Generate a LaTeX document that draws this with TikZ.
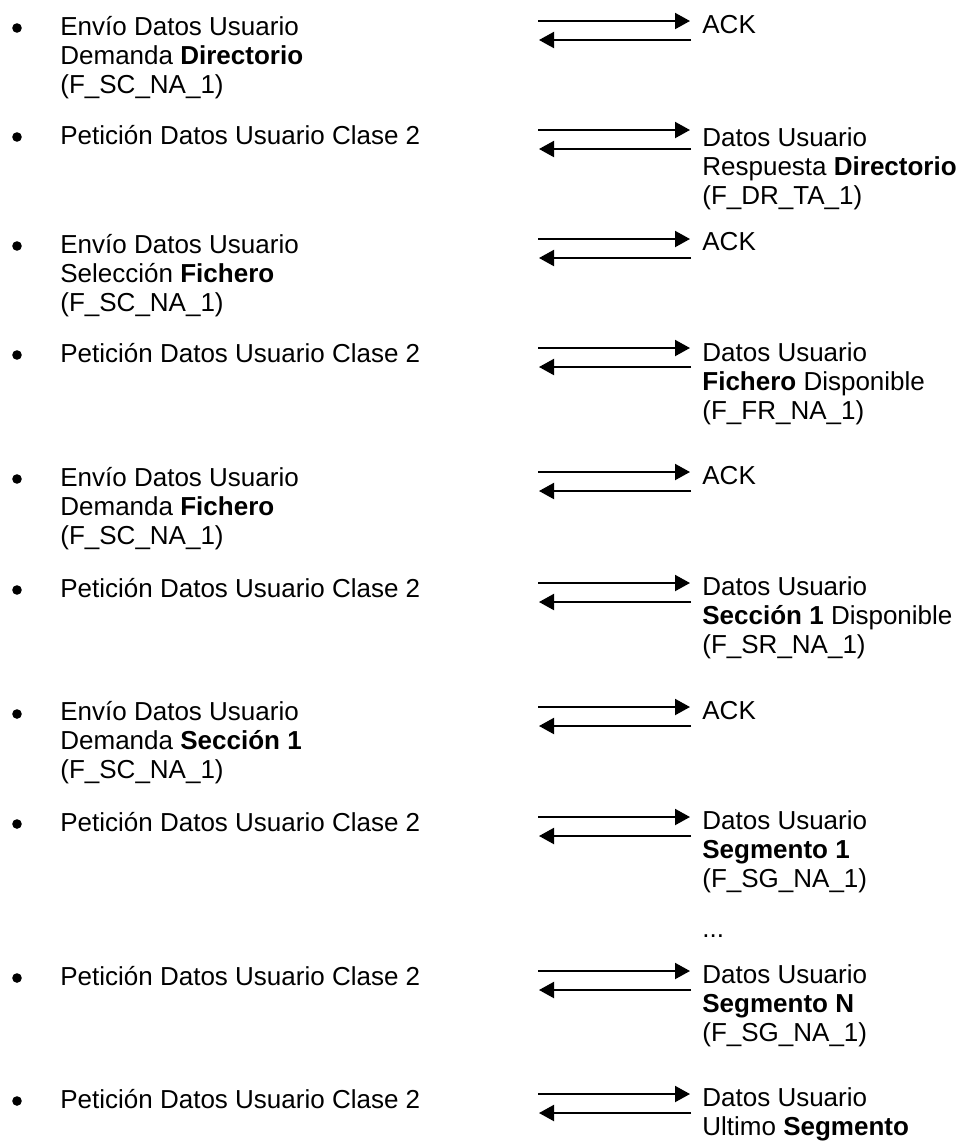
\documentclass[tikz,border=0pt]{standalone}
\usepackage{fontspec}
\setmainfont{Liberation Sans}
\usepackage{tikz}
\usetikzlibrary{arrows.meta}

\begin{document}
\begin{tikzpicture}[x=0.5pt, y=-0.5pt,
    txt/.style={anchor=base west, inner sep=0pt, align=left,
                font=\fontsize{13}{14.5}\selectfont},
    blt/.style={circle, fill=black, inner sep=0pt, minimum size=4.8pt},
    msg/.style={line width=1pt, -{Triangle[length=7.5pt,width=8pt]}}
  ]
  \useasboundingbox (0,0) rectangle (963,1142);
  % left column: requests (base = last line)
  \node[txt] (q1) at (60,93) {Envío Datos Usuario\\Demanda \textbf{Directorio}\\(F\_SC\_NA\_1)};
  \node[txt] (q2) at (60,144) {Petición Datos Usuario Clase 2};
  \node[txt] (q3) at (60,311) {Envío Datos Usuario\\Selección \textbf{Fichero}\\(F\_SC\_NA\_1)};
  \node[txt] (q4) at (60,362) {Petición Datos Usuario Clase 2};
  \node[txt] (q5) at (60,544) {Envío Datos Usuario\\Demanda \textbf{Fichero}\\(F\_SC\_NA\_1)};
  \node[txt] (q6) at (60,597) {Petición Datos Usuario Clase 2};
  \node[txt] (q7) at (60,778) {Envío Datos Usuario\\Demanda \textbf{Sección 1}\\(F\_SC\_NA\_1)};
  \node[txt] (q8) at (60,831) {Petición Datos Usuario Clase 2};
  \node[txt] (q9) at (60,985) {Petición Datos Usuario Clase 2};
  \node[txt] (q10) at (60,1108) {Petición Datos Usuario Clase 2};
  % right column: answers
  \node[txt] (r1) at (702,33) {ACK};
  \node[txt] (r2) at (702,204) {Datos Usuario\\Respuesta \textbf{Directorio}\\(F\_DR\_TA\_1)};
  \node[txt] (r3) at (702,250) {ACK};
  \node[txt] (r4) at (702,419) {Datos Usuario\\\textbf{Fichero} Disponible\\(F\_FR\_NA\_1)};
  \node[txt] (r5) at (702,484) {ACK};
  \node[txt] (r6) at (702,653) {Datos Usuario\\\textbf{Sección 1} Disponible\\(F\_SR\_NA\_1)};
  \node[txt] (r7) at (702,719) {ACK};
  \node[txt] (r8) at (702,887) {Datos Usuario\\\textbf{Segmento 1}\\(F\_SG\_NA\_1)};
  \node[txt] (dots) at (702,937) {...};
  \node[txt] (r9) at (702,1041) {Datos Usuario\\\textbf{Segmento N}\\(F\_SG\_NA\_1)};
  \node[txt] (r10) at (702,1135) {Datos Usuario\\Ultimo \textbf{Segmento}};
  % bullets and arrow pairs
  \foreach \n/\y in {1/21,2/130,3/239,4/348,5/472,6/583,7/707,8/817,9/971,10/1094} {
    \node[blt] (b\n) at (17,\y+7) {};
    \coordinate (s\n) at (538,\y);
    \coordinate (e\n) at (690,\y);
    \coordinate (u\n) at (691,\y+19);
    \coordinate (v\n) at (539,\y+19);
    \draw[msg] (s\n) -- (e\n);
    \draw[msg] (u\n) -- (v\n);
  }
\end{tikzpicture}
\end{document}
